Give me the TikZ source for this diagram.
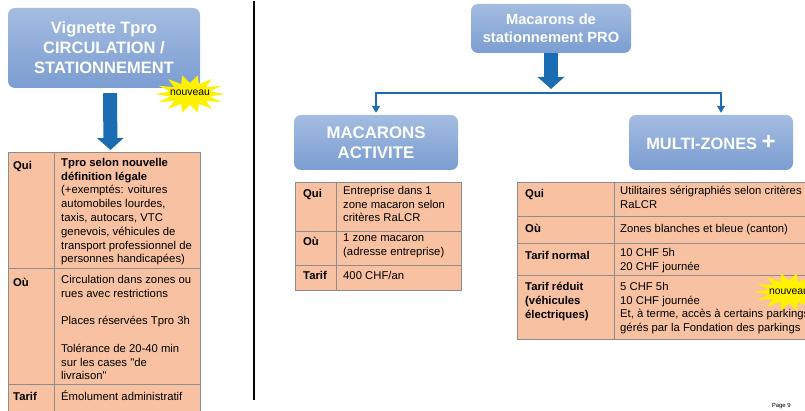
\documentclass[tikz,border=0pt]{standalone}
\usepackage{fontspec}
\setmainfont{Liberation Sans}[Ligatures=TeXOff]
\usetikzlibrary{arrows.meta,positioning,calc}
\definecolor{blueTop}{HTML}{A4BCE1}
\definecolor{blueBot}{HTML}{7B9DD1}
\definecolor{arrowA}{HTML}{1A6DB3}
\definecolor{peachA}{HTML}{F8C1A1}
\definecolor{ruleA}{HTML}{8C8C8C}
\newcommand{\burst}[2]{%
  \fill[yellow] ($(#1,#2)+(0:35 and 19)$)
    \foreach \i [evaluate=\i as \f using {isodd(\i) ? 0.58 : 1}] in {1,...,27}
      { -- ($(#1,#2)+({\i*360/28}:{35*\f} and {19*\f})$) } -- cycle;}

\begin{document}
\begin{tikzpicture}[x=1pt, y=1pt,
  title/.style={rounded corners=7pt, top color=blueTop, bottom color=blueBot, text=white, align=center, inner sep=0pt},
  tab/.style={fill=peachA, draw=ruleA, line width=1pt, inner sep=0pt},
  rowline/.style={draw=ruleA, line width=0.8pt},
  cell/.style={anchor=north west, inner sep=0pt, align=left, font=\fontsize{11.3}{13.8}\selectfont, execute at begin node=\rule{0pt}{11pt}},
  head/.style={cell, font=\fontsize{11.3}{13.8}\selectfont\bfseries},
  bigarr/.style={line width=14pt, arrowA, -{Triangle[width=26pt,length=12pt]}},
  conn/.style={line width=1.3pt, arrowA, -{Triangle[width=8pt,length=7pt]}},
  newtag/.style={font=\fontsize{10.4}{12}\selectfont, inner sep=0pt}]
\useasboundingbox (0,0) rectangle (805,-411);
\clip (0,0) rectangle (805,-411);

\node[title, minimum width=192pt, minimum height=80pt, font=\fontsize{16.5}{20}\selectfont\bfseries] (vign) at (104,-48) {Vignette Tpro\\CIRCULATION /\\STATIONNEMENT};
\node[tab, anchor=north west, minimum width=192pt, minimum height=270pt] (tabL) at (8,-152) {};
\draw[rowline] (54,-152) -- (54,-420);
\draw[rowline] (8,-268) -- (200,-268);
\draw[rowline] (8,-384) -- (200,-384);
\draw[bigarr] ([xshift=6pt,yshift=-5pt]vign.south) -- ([xshift=6pt,yshift=2pt]tabL.north);

\node[head] (quiL) at (13,-158) {Qui};
\node[cell] (quiLt) at (61,-158) {\textbf{Tpro selon nouvelle}\\\textbf{définition légale}\\(+exemptés: voitures\\automobiles lourdes,\\taxis, autocars, VTC\\genevois, véhicules de\\transport professionnel de\\personnes handicapées)};
\node[head] (ouL) at (13,-275) {Où};
\node[cell] (ouLt) at (61,-275) {Circulation dans zones ou\\rues avec restrictions\\[13.8pt]Places réservées Tpro 3h\\[13.8pt]Tolérance de 20-40 min\\sur les cases "de\\livraison"};
\node[head] (tarL) at (13,-389) {Tarif};
\node[cell] (tarLt) at (61,-389) {Émolument administratif};

\burst{190}{-94}
\node[newtag] (newL) at (190,-93) {nouveau};

\draw[line width=1.5pt] (254,-1) -- (254,-400);

\node[title, minimum width=160pt, minimum height=49pt, font=\fontsize{14.7}{18}\selectfont\bfseries] (macpro) at (551,-28.5) {Macarons de\\stationnement PRO};
\node[title, minimum width=164pt, minimum height=55pt, font=\fontsize{16.8}{20}\selectfont\bfseries] (macact) at (376,-142.5) {MACARONS\\ACTIVITE};
\node[title, minimum width=164pt, minimum height=55pt, font=\fontsize{16.4}{20}\selectfont\bfseries] (multi) at (711,-142.5) {MULTI-ZONES {\fontsize{24}{24}\selectfont+}};
\coordinate (split) at (551,-93);
\draw[bigarr] (macpro.south) -- ([yshift=4pt]split);
\draw[conn] (split) -| ([yshift=2pt]macact.north);
\draw[conn] (split) -| ([xshift=10pt,yshift=2pt]multi.north);

\node[tab, below right=12pt and 1pt of macact.south west, minimum width=166pt, minimum height=108pt] (tabM) {};
\draw[rowline] (336,-182) -- (336,-290);
\draw[rowline] (295,-231) -- (461,-231);
\draw[rowline] (295,-265) -- (461,-265);
\node[head] (quiM) at (303,-186) {Qui};
\node[cell] (quiMt) at (343,-186) {Entreprise dans 1\\zone macaron selon\\critères RaLCR};
\node[head] (ouM) at (303,-234) {Où};
\node[cell] (ouMt) at (343,-234) {1 zone macaron\\(adresse entreprise)};
\node[head] (tarM) at (303,-268) {Tarif};
\node[cell] (tarMt) at (343,-268) {400 CHF/an};

\node[tab, anchor=north west, minimum width=300pt, minimum height=157pt] (tabR) at (517,-182) {};
\draw[rowline] (614,-182) -- (614,-339);
\draw[rowline] (517,-216) -- (820,-216);
\draw[rowline] (517,-243) -- (820,-243);
\draw[rowline] (517,-275) -- (820,-275);
\node[head] (quiR) at (525,-186) {Qui};
\node[cell] (quiRt) at (620,-186) {Utilitaires sérigraphiés selon critères\\RaLCR};
\node[head] (ouR) at (525,-221) {Où};
\node[cell] (ouRt) at (620,-221) {Zones blanches et bleue (canton)};
\node[head] (tnR) at (525,-248) {Tarif normal};
\node[cell] (tnRt) at (620,-248) {10 CHF 5h\\20 CHF journée};
\node[head] (trR) at (525,-282) {Tarif réduit\\(véhicules\\électriques)};
\node[cell] (trRt) at (620,-282) {5 CHF 5h\\10 CHF journée\\Et, à terme, accès à certains parkings\\gérés par la Fondation des parkings};

\burst{789}{-292}
\node[newtag] (newR) at (789,-292) {nouveau};

\node[font=\fontsize{6}{7}\selectfont, anchor=base east, inner sep=0pt] (page) at (791,-407) {Page 9};
\end{tikzpicture}
\end{document}
